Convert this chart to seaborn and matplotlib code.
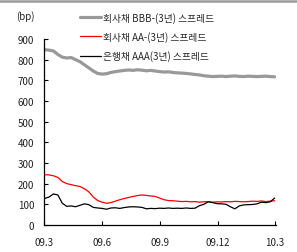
import matplotlib
matplotlib.use("Agg")
import matplotlib.pyplot as plt
from matplotlib.lines import Line2D
import seaborn as sns
import pandas as pd

dates = pd.date_range("2009-03-02", periods=53, freq="7D")

bbb = [848, 846, 842, 825, 812, 808, 810, 800, 790, 775, 760, 745, 733, 730,
       732, 738, 742, 745, 748, 750, 748, 751, 749, 746, 748, 745, 742, 740,
       741, 738, 736, 735, 733, 731, 728, 726, 722, 720, 718, 719, 720, 718,
       720, 721, 719, 718, 720, 719, 718, 719, 720, 718, 717]
aa = [243, 242, 238, 230, 210, 200, 195, 190, 186, 175, 160, 135, 118, 110,
      105, 108, 115, 122, 128, 133, 138, 142, 145, 143, 140, 138, 130, 122,
      118, 117, 115, 113, 114, 112, 113, 110, 112, 113, 110, 112, 111, 113,
      112, 114, 113, 112, 113, 115, 114, 116, 113, 115, 117]
aaa = [128, 135, 150, 145, 105, 90, 92, 88, 95, 102, 98, 85, 82, 80,
       76, 82, 83, 80, 84, 87, 88, 87, 85, 78, 80, 79, 81, 80,
       82, 80, 81, 80, 82, 80, 81, 93, 100, 112, 108, 103, 102, 100,
       88, 78, 92, 97, 98, 99, 102, 110, 108, 112, 130]

labels = ["회사채 BBB-(3년) 스프레드", "회사채 AA-(3년) 스프레드", "은행채 AAA(3년) 스프레드"]
colors = ["#999999", "#ff0000", "#000000"]
widths = [2.3, 0.9, 0.9]
tick_dates = ["2009-03-01", "2009-06-01", "2009-09-01", "2009-12-01", "2010-03-01"]
tick_labels = ["09.3", "09.6", "09.9", "09.12", "10.3"]

sns.set_style("white")
plt.rcParams["font.family"] = ["Noto Sans CJK KR", "DejaVu Sans"]

fig = plt.figure(figsize=(2.97, 2.53), dpi=100)
ax = fig.add_axes([0.148, 0.107, 0.781, 0.735])

for vals, c, w in zip([bbb, aa, aaa], colors, widths):
    sns.lineplot(x=dates, y=vals, ax=ax, color=c, linewidth=w)

ax.set_ylim(0, 900)
ax.set_yticks(range(0, 901, 100))
ax.set_xlim(pd.Timestamp("2009-03-01"), pd.Timestamp("2010-03-03"))
ax.set_xticks(pd.to_datetime(tick_dates))
ax.set_xticklabels(tick_labels)
ax.set_xlabel("")
ax.set_ylabel("")
for s in ["top", "right"]:
    ax.spines[s].set_visible(False)
for s in ["left", "bottom"]:
    ax.spines[s].set_color("black")
    ax.spines[s].set_linewidth(0.9)
ax.tick_params(axis="both", direction="in", length=3, width=0.8, color="black",
               labelsize=7, labelcolor="#222222")
ax.tick_params(axis="y", pad=7)
ax.tick_params(axis="x", pad=9)
ax.tick_params(left=True, bottom=True)

fig.text(0.055, 0.935, "(bp)", fontsize=7, color="#222222", va="center")

handles = [Line2D([0], [0], color=c, linewidth=w) for c, w in zip(colors, widths)]
fig.legend(handles, labels, loc="upper left", bbox_to_anchor=(0.255, 0.965),
           frameon=False, fontsize=7, handlelength=2.2, handletextpad=0.2,
           labelspacing=0.85, borderaxespad=0)

fig.add_artist(Line2D([0, 1], [0.993, 0.993], transform=fig.transFigure,
                      color="#999999", linewidth=1.8))

fig.savefig("out.png", dpi=100)
